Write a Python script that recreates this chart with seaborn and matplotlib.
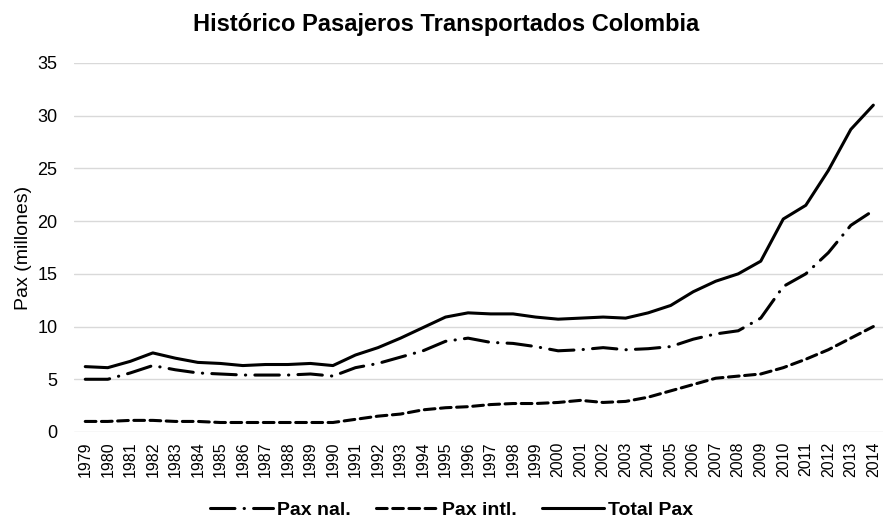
import matplotlib
matplotlib.use("Agg")
import matplotlib.pyplot as plt
import pandas as pd
import seaborn as sns

# Datos (millones de pasajeros)
years = list(range(1979, 2015))
pax_nal = [5.0, 5.0, 5.6, 6.3, 5.9, 5.6, 5.5, 5.4, 5.4, 5.4, 5.5, 5.3,
           6.1, 6.5, 7.1, 7.7, 8.6, 8.9, 8.5, 8.4, 8.1, 7.7, 7.8, 8.0,
           7.8, 7.9, 8.1, 8.8, 9.3, 9.6, 10.8, 13.8, 15.0, 17.0, 19.6, 21.0]
pax_intl = [1.0, 1.0, 1.1, 1.1, 1.0, 1.0, 0.9, 0.9, 0.9, 0.9, 0.9, 0.9,
            1.2, 1.5, 1.7, 2.1, 2.3, 2.4, 2.6, 2.7, 2.7, 2.8, 3.0, 2.8,
            2.9, 3.3, 3.9, 4.5, 5.1, 5.3, 5.5, 6.1, 6.9, 7.8, 8.9, 10.0]
total_pax = [6.2, 6.1, 6.7, 7.5, 7.0, 6.6, 6.5, 6.3, 6.4, 6.4, 6.5, 6.3,
             7.3, 8.0, 8.9, 9.9, 10.9, 11.3, 11.2, 11.2, 10.9, 10.7, 10.8, 10.9,
             10.8, 11.3, 12.0, 13.3, 14.3, 15.0, 16.2, 20.2, 21.5, 24.8, 28.7, 31.0]

series = {"Pax nal.": pax_nal, "Pax intl.": pax_intl, "Total Pax": total_pax}
estilos = {
    "Pax nal.": (8, 3, 0.1, 3),
    "Pax intl.": (3.5, 1.8),
    "Total Pax": "",
}

sns.set_theme(style="whitegrid")
plt.rcParams['font.family'] = ['Liberation Sans', 'DejaVu Sans']
plt.rcParams['text.color'] = 'black'
plt.rcParams['axes.labelcolor'] = 'black'
plt.rcParams['xtick.color'] = 'black'
plt.rcParams['ytick.color'] = 'black'

fig = plt.figure(figsize=(8.83, 5.27), dpi=100)
ax = fig.add_axes([0.0838, 0.1803, 0.918, 0.7002])

pos = list(range(len(years)))
for nombre, valores in series.items():
    df = pd.DataFrame({"x": pos, "y": valores})
    sns.lineplot(data=df, x="x", y="y", ax=ax, color="black",
                 linewidth=2.2, label=nombre)
    l = ax.lines[-1]
    if estilos[nombre]:
        l.set_dashes(estilos[nombre])
    l.set_dash_capstyle("round")
    l.set_solid_capstyle("round")

ax.set_xlim(-0.5, len(years) - 0.5)
ax.set_ylim(0, 35)
ax.set_yticks(range(0, 36, 5))
ax.set_xticks(pos)
ax.set_xticklabels([str(y) for y in years], rotation=90, fontsize=11.5)
ax.tick_params(axis="y", labelsize=13, pad=12, length=0)
ax.tick_params(axis="x", pad=7, length=0)
ax.grid(axis="y", color="#d9d9d9", linewidth=1)
ax.grid(axis="x", visible=False)
for s in ax.spines.values():
    s.set_visible(False)

ax.set_xlabel("")
ax.set_ylabel("Pax (millones)", fontsize=14, labelpad=4)

fig.text(0.505, 1 - 25 / 527, "Histórico Pasajeros Transportados Colombia",
         fontsize=17, fontweight="bold", ha="center", va="center")

leg = ax.legend(loc="center", bbox_to_anchor=(0.466, -0.212), ncol=3,
                frameon=False, handlelength=3.2, columnspacing=1.3,
                handletextpad=0.2, prop={"weight": "bold", "size": 14})

plt.savefig("out.png", dpi=100)
